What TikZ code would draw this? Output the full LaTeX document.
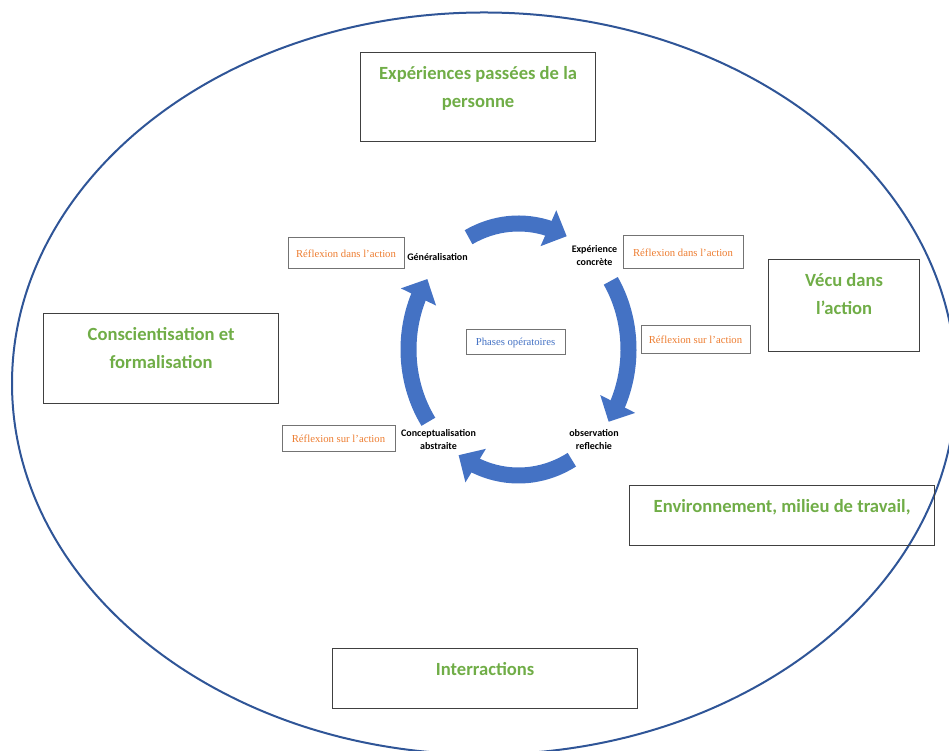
\documentclass[tikz,border=0pt]{standalone}
\usepackage{fontspec}
\setmainfont{Liberation Serif}
\newfontfamily\calibri{Carlito}
\usetikzlibrary{arrows.meta,bending}
\definecolor{cycleblue}{RGB}{68,114,196}
\definecolor{ringblue}{RGB}{47,85,151}
\definecolor{titlegreen}{RGB}{112,173,71}
\definecolor{noteorange}{RGB}{237,125,49}

\begin{document}
\begin{tikzpicture}[
    x=1pt, y=1pt,
    green box/.style={draw=black!75, line width=1.2pt, inner sep=0pt, anchor=north west,
      align=flush center, text height=27pt, text=titlegreen,
      font=\calibri\bfseries\fontsize{18.6}{28}\selectfont},
    note box/.style={draw=black!55, line width=1pt, inner sep=0pt, text=noteorange,
      font=\fontsize{10.7}{12}\selectfont},
    phase label/.style={align=center, font=\calibri\bfseries\fontsize{10}{13}\selectfont},
    cycle arrow/.style={cycleblue, line width=16pt, -{Triangle[width=38pt,length=20pt]}}]

  \useasboundingbox (0,0) rectangle (949,751);
  \draw[ringblue, line width=2pt] (484,367.5) ellipse [x radius=472, y radius=371];

  \node[green box, text width=235pt, text depth=62pt] (Passees) at (360,699)
    {Expériences passées de la\\personne};
  \node[green box, text width=151pt, text depth=65pt] (Vecu) at (768,492)
    {Vécu dans\\l’action};
  \node[green box, text width=235pt, text depth=63pt] (Conscientisation) at (43,438)
    {Conscientisation et\\formalisation};
  \node[green box, text width=305pt, text depth=33pt] (Environnement) at (629,266)
    {Environnement, milieu de travail,};
  \node[green box, text width=305pt, text depth=33pt] (Interractions) at (332,103)
    {Interractions};

  \coordinate (Hub) at (518.5,401.5);
  \draw[cycle arrow] (Hub) ++(117:110 and 126) arc[start angle=117, end angle=64, x radius=110, y radius=126];
  \draw[cycle arrow] (Hub) ++(33:110 and 126) arc[start angle=33, end angle=-35, x radius=110, y radius=126];
  \draw[cycle arrow] (Hub) ++(-61:110 and 126) arc[start angle=-61, end angle=-123, x radius=110, y radius=126];
  \draw[cycle arrow] (Hub) ++(215:110 and 126) arc[start angle=215, end angle=146, x radius=110, y radius=126];

  \node[phase label] (Generalisation) at (437.5,494) {Généralisation};
  \node[phase label] (Experience) at (594.5,495) {Expérience\\concrète};
  \node[phase label] (Observation) at (594,311) {observation\\reflechie};
  \node[phase label] (Conceptualisation) at (438.5,311) {Conceptualisation\\abstraite};

  \node[note box, minimum width=99pt, minimum height=25pt, text=cycleblue] (Phases) at (515.5,408.5)
    {Phases opératoires};
  \node[note box, minimum width=116pt, minimum height=31pt] (ReflexionDans1) at (346,497.5)
    {Réflexion dans l’action};
  \node[note box, minimum width=120pt, minimum height=33pt] (ReflexionDans2) at (683,498.5)
    {Réflexion dans l’action};
  \node[note box, minimum width=109pt, minimum height=28pt] (ReflexionSur1) at (695.5,411)
    {Réflexion sur l’action};
  \node[note box, minimum width=113pt, minimum height=26pt] (ReflexionSur2) at (338.5,312)
    {Réflexion sur l’action};
\end{tikzpicture}
\end{document}
